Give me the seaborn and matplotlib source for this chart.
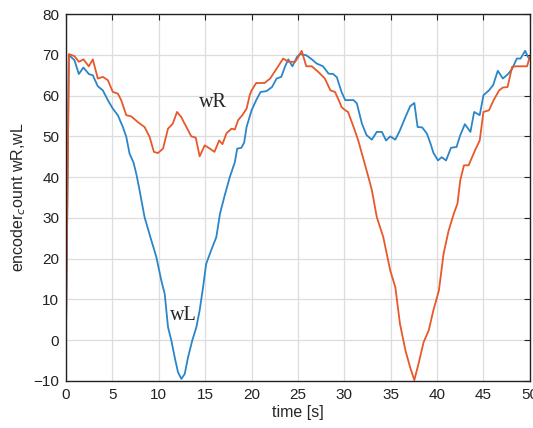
import numpy as np
import pandas as pd
import matplotlib
matplotlib.use("Agg")
import matplotlib.pyplot as plt
import seaborn as sns

# wheel encoder counts
t_wL = [0, 0.3, 0.9, 1.37, 1.87, 2.45, 2.88, 3.42, 3.96, 4.5, 5.04, 5.58, 6.12, 6.49, 6.84, 7.28, 7.6, 7.92,
        8.46, 9.19, 9.73, 10.27, 10.63, 10.99, 11.35, 11.71, 12.07, 12.43, 12.79, 13.15, 13.6, 14.05, 14.4,
        14.77, 15.1, 15.7, 16.2, 16.6, 17.1, 17.65, 18.2, 18.45, 18.9, 19.2, 19.46, 20.0, 20.5, 20.97, 21.6,
        22.2, 22.7, 23.2, 23.6, 23.96, 24.4, 24.9, 25.2, 25.9, 26.5, 27.0, 27.7, 28.3, 28.8, 29.2, 29.4, 29.7,
        30.1, 31.0, 31.35, 31.9, 32.4, 32.97, 33.5, 34.05, 34.5, 34.95, 35.5, 36.0, 36.6, 37.1, 37.55, 37.9,
        38.4, 38.9, 39.3, 39.6, 40.1, 40.5, 40.97, 41.5, 42.1, 42.5, 43.0, 43.6, 44.0, 44.6, 45.0, 45.6, 46.05,
        46.55, 47.1, 47.7, 48.1, 48.6, 49.0, 49.5, 49.8, 50.0]
wL = [4, 70, 68.7, 65.3, 66.9, 65.3, 65.0, 62.3, 61.3, 58.9, 56.8, 55.2, 52.3, 49.9, 45.8, 43.5, 40.5, 36.8,
      30.2, 24.5, 20.4, 14.6, 11.4, 3.2, -0.1, -4.2, -7.9, -9.5, -8.3, -4.2, -0.1, 3.2, 7.3,
      13.0, 18.7, 22.4, 25.3, 31.1, 35.5, 40.0, 43.7, 47.0, 47.2, 48.5, 52.3, 56.4, 58.9, 60.9, 61.1,
      62.1, 64.2, 64.6, 67.1, 68.9, 67.2, 69.5, 70.2, 69.9, 68.9, 67.9, 67.2, 65.4, 65.3, 64.5, 63.0, 60.9,
      58.9, 58.9, 58.1, 53.1, 50.3, 49.2, 51.1, 51.1, 49.0, 50.0, 49.2, 51.5, 54.8, 57.4, 58.2, 52.3,
      52.2, 50.7, 48.2, 46.0, 44.1, 44.9, 44.1, 47.2, 47.4, 50.3, 53.0, 51.1, 56.0, 55.2, 60.1, 61.3, 62.6,
      66.1, 64.2, 65.4, 66.6, 69.1, 69.1, 71.0, 69.5, 69.0]

t_wR = [0, 0.3, 0.9, 1.37, 1.87, 2.45, 2.88, 3.42, 3.96, 4.5, 5.04, 5.58, 5.94, 6.49, 7.03, 7.74, 8.46, 9.0,
        9.47, 9.9, 10.45, 10.99, 11.5, 11.96, 12.4, 12.97, 13.5, 13.98, 14.4, 14.95, 15.5, 16.0, 16.5, 16.86,
        17.3, 17.84, 18.2, 18.55, 19.0, 19.46, 19.8, 20.0, 20.5, 21.4, 22.0, 22.7, 23.4, 23.96, 24.7, 25.04,
        25.4, 25.9, 26.5, 27.2, 27.9, 28.5, 29.0, 29.55, 29.7, 30.1, 30.4, 31.0, 31.5, 32.1, 32.6, 32.97,
        33.5, 34.2, 34.95, 35.5, 36.0, 36.6, 37.1, 37.55, 38.0, 38.55, 39.1, 39.6, 40.2, 40.7, 41.25, 41.8,
        42.2, 42.5, 42.9, 43.4, 44.1, 44.6, 45.0, 45.6, 46.1, 46.7, 47.1, 47.6, 48.1, 48.6, 49.7, 50.0]
wR = [4, 70.2, 69.7, 68.3, 68.9, 67.2, 68.9, 64.2, 64.6, 63.8, 60.9, 60.5, 58.9, 55.2, 54.9, 53.5, 52.3, 49.9,
      46.2, 45.9, 47.0, 51.9, 53.1, 56.0, 54.8, 52.3, 50.0, 49.7, 45.1, 47.8, 47.0, 46.2, 49.0, 48.1,
      50.8, 51.9, 51.7, 54.0, 55.2, 56.8, 60.1, 61.3, 63.1, 63.1, 64.2, 66.6, 69.1, 68.3, 68.3, 69.5,
      71.0, 67.2, 67.2, 65.8, 64.2, 61.3, 60.9, 58.1, 57.2, 56.4, 56.0, 52.3, 49.0, 44.1, 40.0, 36.8,
      30.2, 25.3, 17.1, 13.0, 4.0, -2.6, -6.7, -9.8, -5.8, -0.5, 2.4, 7.3, 12.2, 21.2, 26.9, 31.0,
      33.5, 39.2, 42.9, 42.9, 46.6, 49.0, 56.0, 56.4, 58.9, 61.3, 62.0, 62.1, 67.1, 67.2, 67.2, 69.5]

sns.set_style("whitegrid")
plt.rcParams['font.family'] = ['Liberation Sans', 'DejaVu Sans']

fig = plt.figure(figsize=(5.33, 4.28), dpi=100)
ax = fig.add_axes([0.124, 0.110, 0.870, 0.857])

sns.lineplot(x=t_wL, y=wL, color='#2a86c8', linewidth=1.3, ax=ax)
sns.lineplot(x=t_wR, y=wR, color='#e8582a', linewidth=1.3, ax=ax)

ax.text(15.8, 58.4, 'wR', family='Liberation Serif', fontsize=14.5, ha='center', va='center')
ax.text(12.6, 6.0, 'wL', family='Liberation Serif', fontsize=14.5, ha='center', va='center')

ax.set_xlim(0, 50)
ax.set_ylim(-10, 80)
ax.set_xticks(np.arange(0, 51, 5))
ax.set_yticks(np.arange(-10, 81, 10))
ax.grid(True, color='#dddddd', linewidth=0.9)
for s in ax.spines.values():
    s.set_visible(True)
    s.set_color('#222222')
    s.set_linewidth(1.0)
ax.tick_params(direction='in', top=True, right=True, length=4, width=0.8,
               labelsize=11, colors='#222222', pad=5)
ax.set_xlabel('time [s]', fontsize=11.5, labelpad=2)
ax.set_ylabel('encoder$_c$ount wR,wL', fontsize=11.5, labelpad=4)

fig.savefig('out.png', dpi=100)
